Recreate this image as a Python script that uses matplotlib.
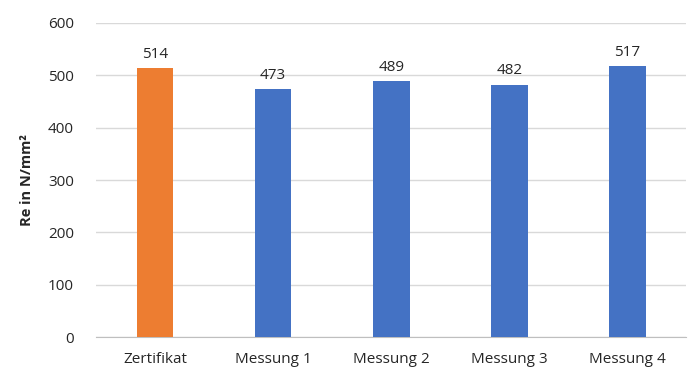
import matplotlib
matplotlib.use("Agg")
from matplotlib import pyplot as plt
import numpy as np

categories = ["Zertifikat", "Messung 1", "Messung 2", "Messung 3", "Messung 4"]
values = [514, 473, 489, 482, 517]
yticks = [0, 100, 200, 300, 400, 500, 600]

plt.rcParams['font.family'] = ['Open Sans', 'DejaVu Sans']

fig = plt.figure(figsize=(6.93, 3.70), dpi=100)
ax = fig.add_axes([0.1385, 0.089, 0.852, 0.849])

x = np.arange(len(categories))
colors = ["#ED7D31"] + ["#4472C4"] * (len(categories) - 1)
bars = ax.bar(x, values, width=0.31, color=colors, zorder=3)
for b, v in zip(bars, values):
    ax.text(b.get_x() + b.get_width() / 2, v + 12, str(v), ha="center", va="bottom",
            fontsize=11, color="#262626")

ax.set_xlim(-0.5, len(categories) - 0.5)
ax.set_ylim(0, 600)
ax.set_yticks(yticks)
ax.set_xticks(x)
ax.set_xticklabels(categories, fontsize=11, color="#262626")
ax.tick_params(axis="y", labelsize=11, colors="#262626", length=0, pad=16)
ax.tick_params(axis="x", length=0, pad=11)
ax.grid(axis="y", color="#d9d9d9", linewidth=1, zorder=0)
for s in ["top", "right", "left"]:
    ax.spines[s].set_visible(False)
ax.spines["bottom"].set_color("#bfbfbf")
ax.set_ylabel("Re in N/mm²", fontsize=10.5, fontweight="bold", color="#262626", labelpad=10)

fig.savefig("out.png", dpi=100)
